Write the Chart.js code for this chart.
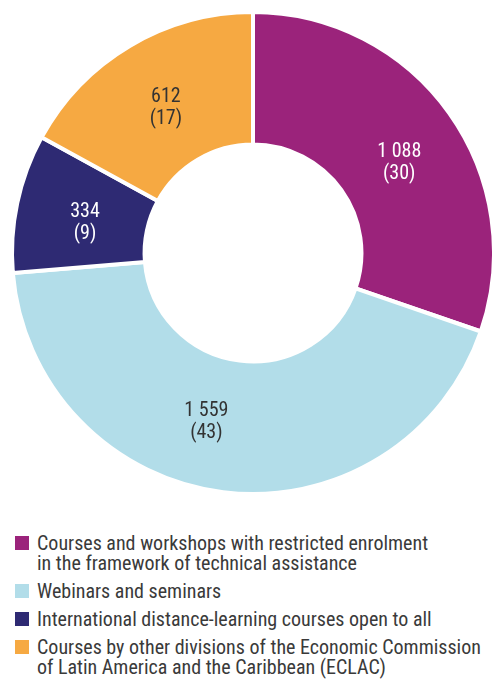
<!DOCTYPE html>
<html>
<head>
<meta charset="utf-8">
<script src="https://cdn.jsdelivr.net/npm/chart.js@4.4.0/dist/chart.umd.min.js"></script>
<style>
  body { margin: 0; background: #fff; width: 492px; height: 679px; overflow: hidden; position: relative;
         font-family: "Liberation Sans Narrow", "Roboto Condensed", "DejaVu Sans Condensed", sans-serif; }
  #wrap { position: absolute; left: 0; top: 0; width: 500px; height: 504px; }
  #legend { position: absolute; left: 15px; top: 533px; color: #3a3a3a; font-size: 20px; line-height: 20px; white-space: nowrap; }
  .item { position: relative; padding-left: 22px; margin-bottom: 8px; }
  .box { position: absolute; left: 0; top: 3px; width: 14px; height: 14px; }
</style>
</head>
<body>
<div id="wrap"><canvas id="chart"></canvas></div>
<div id="legend"></div>
<script>
var categories = [
    ['Courses and workshops with restricted enrolment', 'in the framework of technical assistance'],
    ['Webinars and seminars'],
    ['International distance-learning courses open to all'],
    ['Courses by other divisions of the Economic Commission', 'of Latin America and the Caribbean (ECLAC)']
];
var participants = [1088, 1559, 334, 612];
var percents = [30, 43, 9, 17];
var colours = ['#9b237b', '#b2dde9', '#2e2a73', '#f6a942'];
var labelColours = ['#ffffff', '#333333', '#ffffff', '#333333'];
// small nudges so the labels sit where the original has them
var labelNudge = [[4, 11], [-25, -4], [3, 6], [2, 5]];

function fmt(n) {
    return String(n).replace(/\B(?=(\d{3})+(?!\d))/g, ' ');
}

var sliceLabels = {
    id: 'sliceLabels',
    afterDatasetsDraw: function(chart) {
        var ctx = chart.ctx;
        var meta = chart.getDatasetMeta(0);
        ctx.save();
        ctx.font = '20px "Liberation Sans Narrow", "Roboto Condensed", "DejaVu Sans Condensed", sans-serif';
        ctx.textAlign = 'center';
        ctx.textBaseline = 'middle';
        meta.data.forEach(function(arc, i) {
            var p = arc.tooltipPosition();
            var x = p.x + labelNudge[i][0];
            var y = p.y + labelNudge[i][1];
            ctx.fillStyle = labelColours[i];
            ctx.fillText(fmt(participants[i]), x, y - 11);
            ctx.fillText('(' + percents[i] + ')', x, y + 11);
        });
        ctx.restore();
    }
};

var ctx = document.getElementById('chart').getContext('2d');
var myChart = new Chart(ctx, {
    type: 'doughnut',
    data: {
        labels: categories.map(function(c) { return c.join(' '); }),
        datasets: [{
            data: participants,
            backgroundColor: colours,
            borderColor: '#ffffff',
            borderWidth: 4
        }]
    },
    options: {
        responsive: true,
        maintainAspectRatio: false,
        animation: false,
        cutout: '45%',
        layout: { padding: { left: 10, right: 4, top: 10, bottom: 8 } },
        plugins: {
            legend: { display: false },
            tooltip: { enabled: false }
        }
    },
    plugins: [sliceLabels]
});

var legend = document.getElementById('legend');
categories.forEach(function(c, i) {
    var div = document.createElement('div');
    div.className = 'item';
    div.innerHTML = '<span class="box" style="background:' + colours[i] + '"></span>' + c.join('<br>');
    legend.appendChild(div);
});
</script>
</body>
</html>
